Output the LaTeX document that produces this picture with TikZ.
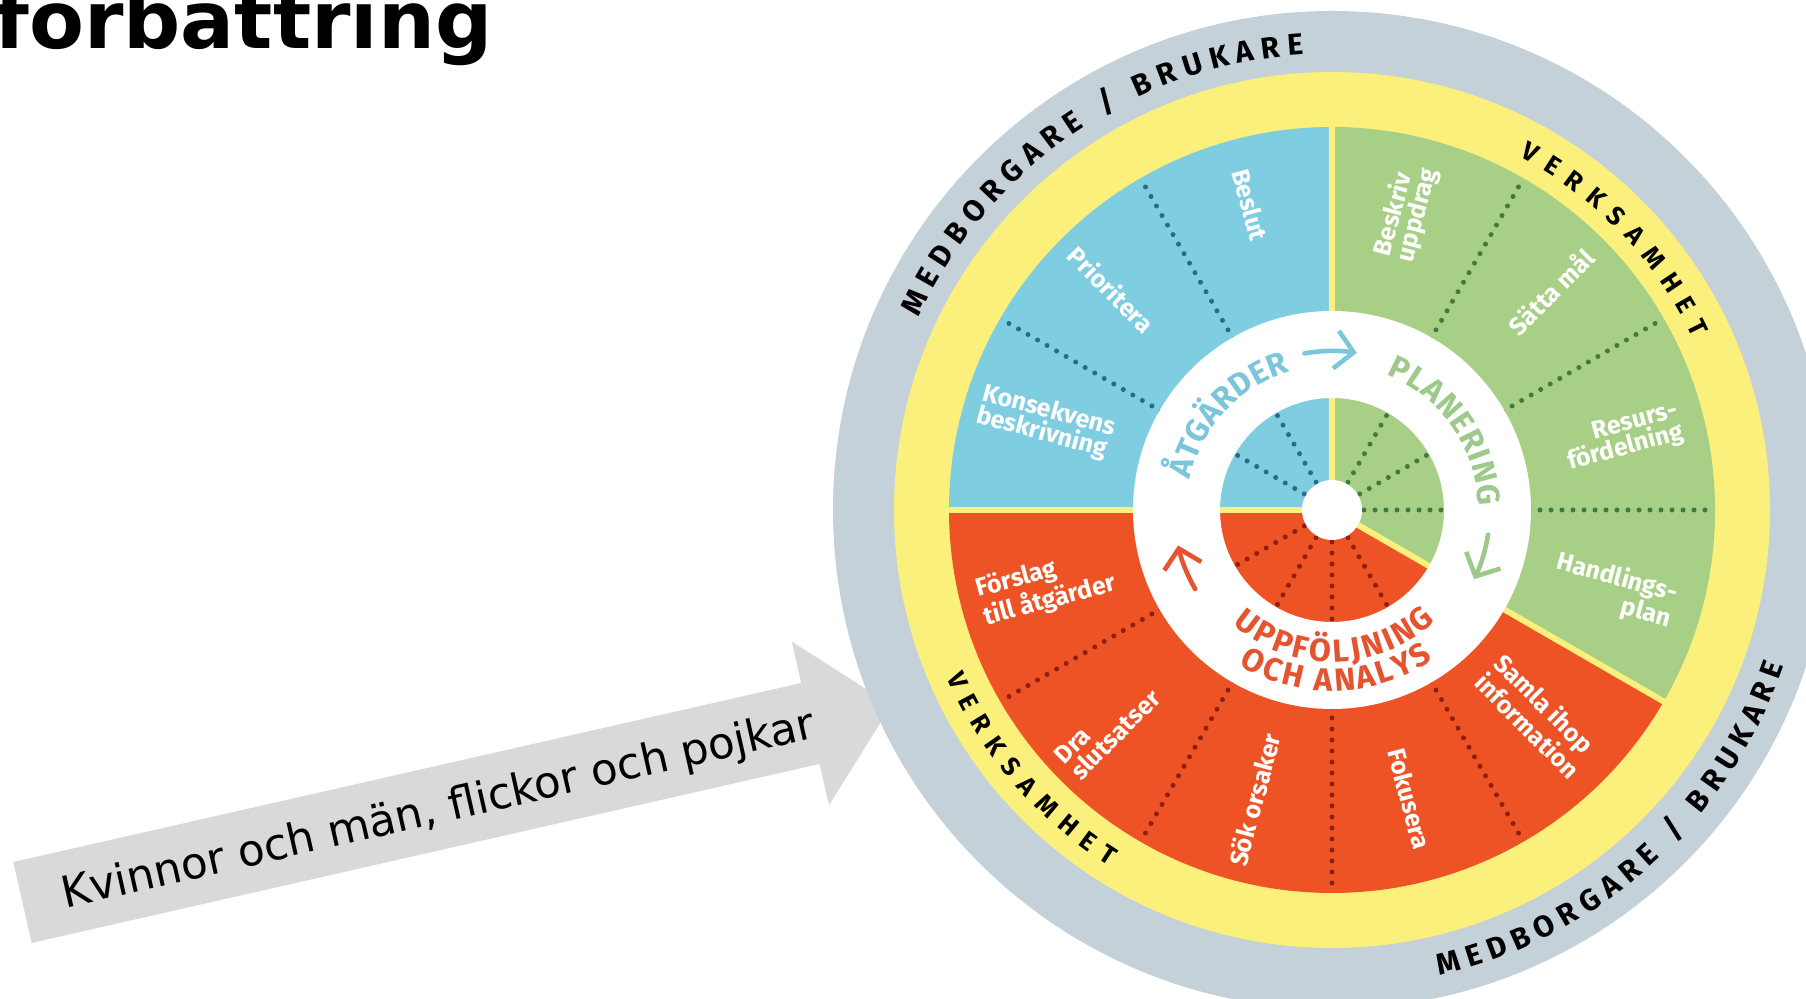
\documentclass[tikz,border=0pt]{standalone}
\usepackage{fontspec}
\setmainfont{DejaVu Sans}
\newfontfamily\wheelfont{Fira Sans}
\usetikzlibrary{decorations.text,arrows.meta}

\definecolor{ringgray}{HTML}{C5D1D8}
\definecolor{ringyellow}{HTML}{FBF07B}
\definecolor{segblue}{HTML}{7FCDE1}
\definecolor{seggreen}{HTML}{A7CF86}
\definecolor{segred}{HTML}{EE5326}
\definecolor{dotblue}{HTML}{2A6A86}
\definecolor{dotgreen}{HTML}{3F7A40}
\definecolor{dotred}{HTML}{8E1E0E}
\definecolor{cycleblue}{HTML}{7CC6DC}
\definecolor{cyclegreen}{HTML}{9DC98A}
\definecolor{cyclered}{HTML}{E4542E}
\definecolor{arrowgray}{HTML}{D9D9D9}

\newcommand\ringfont{\wheelfont\bfseries\fontsize{15}{15}\selectfont}
\newcommand\verkfont{\wheelfont\bfseries\fontsize{13}{13}\selectfont}
\newcommand\cyclefont{\wheelfont\bfseries\fontsize{16}{16}\selectfont}

\tikzset{
  seglabel/.style={text=white, font=\wheelfont\bfseries\fontsize{12.5}{11.5}\selectfont, align=left, inner sep=0pt},
  sepline/.style={draw=ringyellow, line width=3pt},
  dotline/.style={line width=2.5pt, dash pattern=on 0pt off 5.5pt, line cap=round},
  cyclearrow/.style={line width=2.3pt, line cap=round, -{Straight Barb[length=9pt,width=19pt]}}
}

\begin{document}
\begin{tikzpicture}[x=0.5pt,y=0.5pt,line join=round]
  \useasboundingbox (0,0) rectangle (1806,999);
  \clip (0,0) rectangle (1806,999);

  % title, cut at the top
  \node[anchor=base west, inner sep=0pt, font=\bfseries\fontsize{40}{40}\selectfont] (title) at (-6,950) {förbättring};

  % grey arrow towards the wheel
  \begin{scope}[shift={(22.5,96.5)}, rotate=12.8]
    \fill[arrowgray] (0,-41.5) -- (808,-41.5) -- (808,-84) -- (891,0) -- (808,84) -- (808,41.5) -- (0,41.5) -- cycle;
    \node[rotate=12.8, font=\fontsize{21.8}{21.8}\selectfont] (flow) at (426,-3) {Kvinnor och män, flickor och pojkar};
  \end{scope}

  % the wheel
  \begin{scope}[shift={(1332,489)}]
    \fill[ringgray] (0,0) circle (499);
    \fill[ringyellow] (0,0) circle (438);
    \fill[segblue] (0,0) -- (90:383) arc[start angle=90, end angle=180, radius=383] -- cycle;
    \fill[seggreen] (0,0) -- (-30:383) arc[start angle=-30, end angle=90, radius=383] -- cycle;
    \fill[segred] (0,0) -- (180:383) arc[start angle=180, end angle=330, radius=383] -- cycle;

    \foreach \a in {120,150} \draw[dotline, draw=dotblue] (\a:32) -- (\a:380);
    \foreach \a in {60,30,0} \draw[dotline, draw=dotgreen] (\a:32) -- (\a:380);
    \foreach \a in {210,240,270,300} \draw[dotline, draw=dotred] (\a:32) -- (\a:380);
    \foreach \a in {90,180,-30} \draw[sepline] (0,0) -- (\a:384);

    \fill[white, even odd rule] (0,0) circle (199) circle (112);
    \fill[white] (0,0) circle (30);

    % outer rings
    \path[decorate, decoration={text along path, text align=fit to path, text color=black,
      text={|\ringfont|MEDBORGARE / BRUKARE}}] (155:456) arc[start angle=155, end angle=93.5, radius=456];
    \path[decorate, decoration={text along path, text align=fit to path, text color=black,
      text={|\ringfont|MEDBORGARE / BRUKARE}}] (-77:478) arc[start angle=-77, end angle=-19, radius=478];
    \path[decorate, decoration={text along path, text align=fit to path, text color=black,
      text={|\verkfont|VERKSAMHET}}] (62:400) arc[start angle=62, end angle=25.5, radius=400];
    \path[decorate, decoration={text along path, text align=fit to path, text color=black,
      text={|\verkfont|VERKSAMHET}}] (203.5:420) arc[start angle=203.5, end angle=238, radius=420];

    % inner ring
    \path[decorate, decoration={text along path, text align=fit to path, text color=cycleblue,
      text={|\cyclefont|ÅTGÄRDER}}] (168:145) arc[start angle=168, end angle=107, radius=145];
    \path[decorate, decoration={text along path, text align=fit to path, text color=cyclegreen,
      text={|\cyclefont|PLANERING}}] (68:146) arc[start angle=68, end angle=1.5, radius=146];
    \path[decorate, decoration={text along path, text align=fit to path, text color=cyclered,
      text={|\cyclefont|UPPFÖLJNING}}] (229:152) arc[start angle=229, end angle=313, radius=152];
    \path[decorate, decoration={text along path, text align=fit to path, text color=cyclered,
      text={|\cyclefont|OCH ANALYS}}] (239:181) arc[start angle=239, end angle=304, radius=181];

    \draw[cyclearrow, draw=cycleblue] (100:159) arc[start angle=100, end angle=81, radius=159];
    \draw[cyclearrow, draw=cyclegreen] (-9:158) arc[start angle=-9, end angle=-26, radius=158];
    \draw[cyclearrow, draw=cyclered] (210:158) arc[start angle=210, end angle=193, radius=158];

    % segment labels
    \node[seglabel, rotate=-75] (beslut) at (105:316) {Beslut};
    \node[seglabel, rotate=-45] (prioritera) at (135:312) {Prioritera};
    \node[seglabel, rotate=-15] (konsekvens) at (163:299) {Konsekvens\\beskrivning};
    \node[seglabel, rotate=75] (beskriv) at (76:307) {Beskriv\\uppdrag};
    \node[seglabel, rotate=45] (satta) at (45:309) {Sätta mål};
    \node[seglabel, rotate=15, align=right] (resurs) at (14:300) {Resurs-\\fördelning};
    \node[seglabel, rotate=-15, align=right] (handlings) at (-16:293) {Handlings-\\plan};
    \node[seglabel, rotate=15] (forslag) at (195:296) {Förslag\\till åtgärder};
    \node[seglabel, rotate=45] (dra) at (224:312) {Dra\\slutsatser};
    \node[seglabel, rotate=75] (sok) at (255:300) {Sök orsaker};
    \node[seglabel, rotate=-75] (fokusera) at (285:299) {Fokusera};
    \node[seglabel, rotate=-45] (samla) at (315:291) {Samla ihop\\information};
  \end{scope}
\end{tikzpicture}
\end{document}
